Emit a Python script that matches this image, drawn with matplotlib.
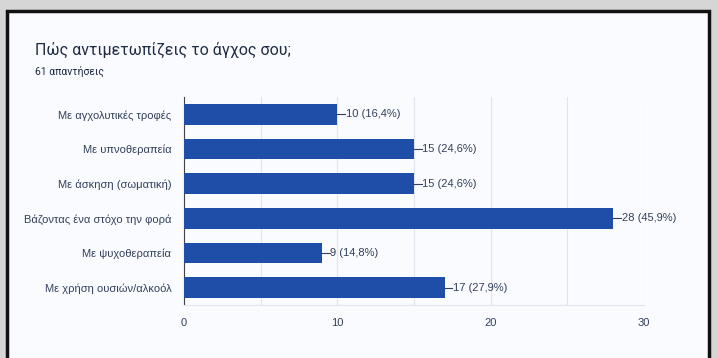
import matplotlib.pyplot as plt
from matplotlib.patches import Rectangle

categories = ["Με αγχολυτικές τροφές", "Με υπνοθεραπεία", "Με άσκηση (σωματική)",
              "Βάζοντας ένα στόχο την φορά", "Με ψυχοθεραπεία", "Με χρήση ουσιών/αλκοόλ"]
counts = [10, 15, 15, 28, 9, 17]
percents = ["16,4%", "24,6%", "24,6%", "45,9%", "14,8%", "27,9%"]
total = 61

bar_color = "#1f4ea8"
text_color = "#333f5c"

fig = plt.figure(figsize=(7.17, 3.58), dpi=100)
fig.patch.set_facecolor("#d6d6d6")

# card with black frame, drawn under the axes
card = Rectangle((7 / 717, -0.05), 702 / 717, 1.05 - 11 / 358, transform=fig.transFigure,
                 facecolor="#f9fbfe", edgecolor="#111111", linewidth=2.5, zorder=-10)
fig.patches.append(card)

fig.text(35 / 717, 1 - 50 / 358, "Πώς αντιμετωπίζεις το άγχος σου;", fontsize=11.5,
         family="Roboto", color="#1f2a44", va="center")
fig.text(35 / 717, 1 - 71 / 358, f"{total} απαντήσεις", fontsize=7.5,
         family="Roboto", color="#1f2a44", va="center")

ax = fig.add_axes([184 / 717, 1 - 305 / 358, (644 - 184) / 717, (305 - 97) / 358])
ax.set_zorder(5)
ax.set_facecolor("none")
y = range(len(categories))
ax.barh(y, counts, height=0.6, color=bar_color, zorder=3)
ax.set_ylim(len(categories) - 0.5, -0.5)
ax.set_xlim(0, 30)
ax.set_xticks([0, 10, 20, 30])
ax.set_xticks([5, 15, 25], minor=True)
ax.grid(axis="x", which="both", color="#dfe4ee", linewidth=0.8, zorder=0)
ax.set_yticks(list(y))
ax.set_yticklabels(categories, fontsize=8, family="Liberation Sans", color=text_color)
ax.tick_params(axis="x", labelsize=8, colors=text_color, length=0, pad=9)
ax.tick_params(axis="x", which="minor", length=0)
ax.tick_params(axis="y", length=0, pad=9)
for s in ["top", "right"]:
    ax.spines[s].set_visible(False)
ax.spines["left"].set_color("#444444")
ax.spines["bottom"].set_color("#dfe4ee")
for lab in ax.get_xticklabels():
    lab.set_family("Liberation Sans")

# value labels with a short leader line
for i, (c, p) in enumerate(zip(counts, percents)):
    ax.plot([c, c + 0.5], [i, i], color=text_color, linewidth=0.8, zorder=4, clip_on=False)
    ax.text(c + 0.55, i, f"{c} ({p})", va="center", ha="left", fontsize=8,
            family="Liberation Sans", color=text_color)

fig.savefig("out.png", dpi=100, facecolor=fig.get_facecolor())
